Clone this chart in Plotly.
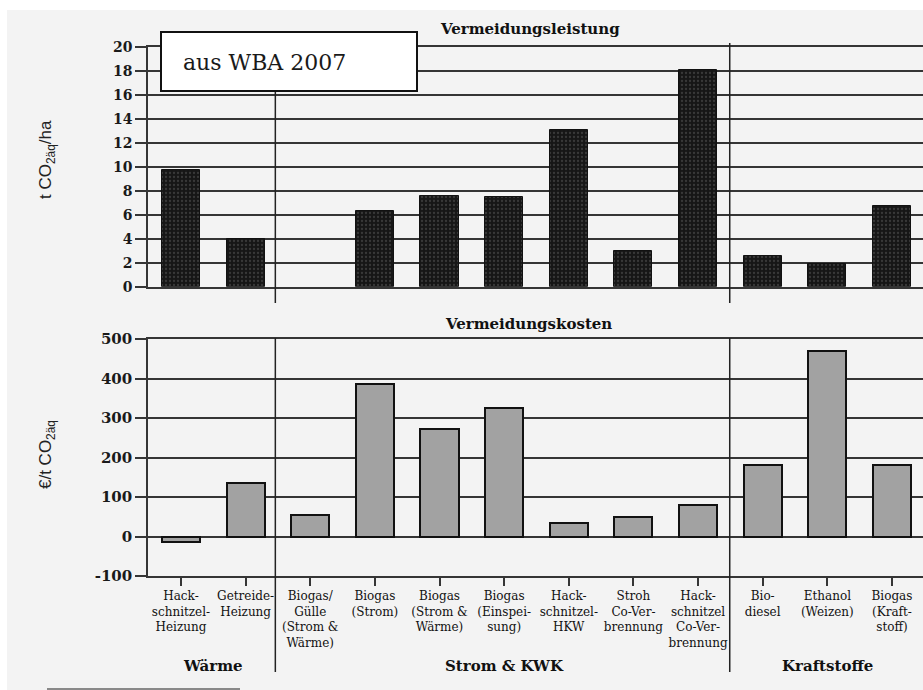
import plotly.graph_objects as go

# ---------------- data ----------------
categories = [
    "Hack-<br>schnitzel-<br>Heizung",
    "Getreide-<br>Heizung",
    "Biogas/<br>Gülle<br>(Strom &<br>Wärme)",
    "Biogas<br>(Strom)",
    "Biogas<br>(Strom &<br>Wärme)",
    "Biogas<br>(Einspei-<br>sung)",
    "Hack-<br>schnitzel-<br>HKW",
    "Stroh<br>Co-Ver-<br>brennung",
    "Hack-<br>schnitzel<br>Co-Ver-<br>brennung",
    "Bio-<br>diesel",
    "Ethanol<br>(Weizen)",
    "Biogas<br>(Kraft-<br>stoff)",
]
leistung = [9.7, 4.0, None, 6.3, 7.6, 7.5, 13.1, 3.0, 18.1, 2.6, 1.9, 6.7]   # t CO2aeq/ha
kosten = [-15, 135, 55, 385, 272, 326, 35, 50, 80, 180, 470, 180]            # EUR/t CO2aeq
groups = ["Wärme", "Strom & KWK", "Kraftstoffe"]
group_members = [[0, 1], [2, 3, 4, 5, 6, 7, 8], [9, 10, 11]]
top_ticks = list(range(0, 21, 2))
bottom_ticks = list(range(-100, 501, 100))

x = list(range(len(categories)))

# ---------------- layout geometry ----------------
W, H = 923, 690
ML, MR, MT, MB = 148, 0, 47, 114
PH = H - MT - MB
PW = W - ML - MR
XMIN, XMAX = -0.51, 11.48


def py(pix):  # pixel row -> paper y
    return (H - MB - pix) / PH


def px(pix):  # pixel column -> paper x
    return (pix - ML) / PW


def dx(v):  # data x -> paper x
    return (v - XMIN) / (XMAX - XMIN)


GRID = "#353535"
serif = "DejaVu Serif"

fig = go.Figure()

fig.add_trace(go.Bar(
    x=x, y=leistung, xaxis="x2", yaxis="y2", width=0.59,
    marker=dict(color="#161616", line=dict(color="#111", width=1),
                pattern=dict(shape=".", fgcolor="#5c5c5c", bgcolor="#161616",
                             size=4, solidity=0.25)),
    showlegend=False,
))
fig.add_trace(go.Bar(
    x=x, y=kosten, xaxis="x", yaxis="y", width=0.59,
    marker=dict(color="#a2a2a2", line=dict(color="#111", width=2)),
    showlegend=False,
))

line_style = dict(linecolor=GRID, linewidth=1.5)
grid_style = dict(gridcolor=GRID, gridwidth=1.5)

fig.update_layout(
    width=W, height=H,
    margin=dict(l=ML, r=MR, t=MT, b=MB, pad=0),
    paper_bgcolor="#ffffff",
    plot_bgcolor="rgba(0,0,0,0)",
    bargap=0,
    xaxis=dict(domain=[0, 1], anchor="y", range=[XMIN, XMAX],
               tickmode="array", tickvals=x, ticktext=categories,
               ticks="outside", ticklen=8, tickwidth=1.5, tickcolor=GRID,
               showline=True, mirror=True, showgrid=False, zeroline=False,
               tickfont=dict(family=serif, size=12, color="#111"),
               **line_style),
    yaxis=dict(domain=[0, py(339)], anchor="x", range=[-100, 500],
               tickmode="array", tickvals=bottom_ticks,
               ticktext=[str(v) for v in bottom_ticks],
               ticks="outside", ticklen=11, tickwidth=1.5, tickcolor=GRID,
               showline=True, showgrid=True, zeroline=True,
               zerolinecolor=GRID, zerolinewidth=1.5,
               tickfont=dict(family=serif, size=15, color="#1a1a1a", weight="bold"),
               **line_style, **grid_style),
    xaxis2=dict(domain=[0, 1], anchor="y2", range=[XMIN, XMAX], matches="x",
                showticklabels=False, ticks="", showline=True, mirror=True,
                showgrid=False, zeroline=False, **line_style),
    yaxis2=dict(domain=[py(286.7), 1], anchor="x2", range=[0, 20],
                tickmode="array", tickvals=top_ticks,
                ticks="outside", ticklen=11, tickwidth=1.5, tickcolor=GRID,
                showline=True, showgrid=True, zeroline=False,
                tickfont=dict(family=serif, size=14, color="#1a1a1a", weight="bold"),
                **line_style, **grid_style),
)

shapes = []
# grey page background (white strip on top and left)
shapes.append(dict(type="rect", xref="paper", yref="paper", layer="below",
                   x0=px(7), x1=px(W + 5), y0=py(H + 5), y1=py(10),
                   fillcolor="#f3f3f3", line=dict(width=0)))
# group dividers
for b in [1.46, 8.49]:
    shapes.append(dict(type="line", xref="paper", yref="paper",
                       x0=dx(b), x1=dx(b), y0=py(303), y1=py(43),
                       line=dict(color="#222", width=1.5)))
    shapes.append(dict(type="line", xref="paper", yref="paper",
                       x0=dx(b), x1=dx(b), y0=py(672), y1=py(338),
                       line=dict(color="#222", width=1.5)))
# source box
shapes.append(dict(type="rect", xref="paper", yref="paper", layer="above",
                   x0=px(161), x1=px(417), y0=py(91), y1=py(32),
                   fillcolor="#ffffff", line=dict(color="#111", width=2)))
# footnote rule bottom-left
shapes.append(dict(type="line", xref="paper", yref="paper",
                   x0=px(47), x1=px(240), y0=py(689), y1=py(689),
                   line=dict(color="#666", width=1.5)))

annotations = [
    dict(text="aus WBA 2007", xref="paper", yref="paper", x=px(181), y=py(63),
         xanchor="left", yanchor="middle", showarrow=False,
         font=dict(family="DejaVu Serif", size=22, color="#1a1a1a")),
    dict(text="Vermeidungsleistung", xref="paper", yref="paper", x=px(530), y=py(29),
         xanchor="center", yanchor="middle", showarrow=False,
         font=dict(family=serif, size=15, color="#111", weight="bold")),
    dict(text="Vermeidungskosten", xref="paper", yref="paper", x=px(528), y=py(324),
         xanchor="center", yanchor="middle", showarrow=False,
         font=dict(family=serif, size=15, color="#111", weight="bold")),
    dict(text="t CO<sub>2äq</sub>/ha", xref="paper", yref="paper", x=px(47), y=py(160),
         xanchor="center", yanchor="middle", showarrow=False, textangle=-90,
         font=dict(family="Liberation Sans", size=17, color="#222")),
    dict(text="€/t CO<sub>2äq</sub>", xref="paper", yref="paper", x=px(47), y=py(455),
         xanchor="center", yanchor="middle", showarrow=False, textangle=-90,
         font=dict(family="Liberation Sans", size=17, color="#222")),
]
for g, members in zip(groups, group_members):
    annotations.append(dict(text=g, xref="x", yref="paper",
                            x=sum(members) / len(members), y=py(666),
                            xanchor="center", yanchor="middle", showarrow=False,
                            font=dict(family=serif, size=15, color="#111", weight="bold")))

fig.update_layout(shapes=shapes, annotations=annotations)
fig.write_html(
    "out.html",
    config={"displayModeBar": False},
    post_script="document.body.style.margin='0';document.body.style.overflow='hidden';",
)
